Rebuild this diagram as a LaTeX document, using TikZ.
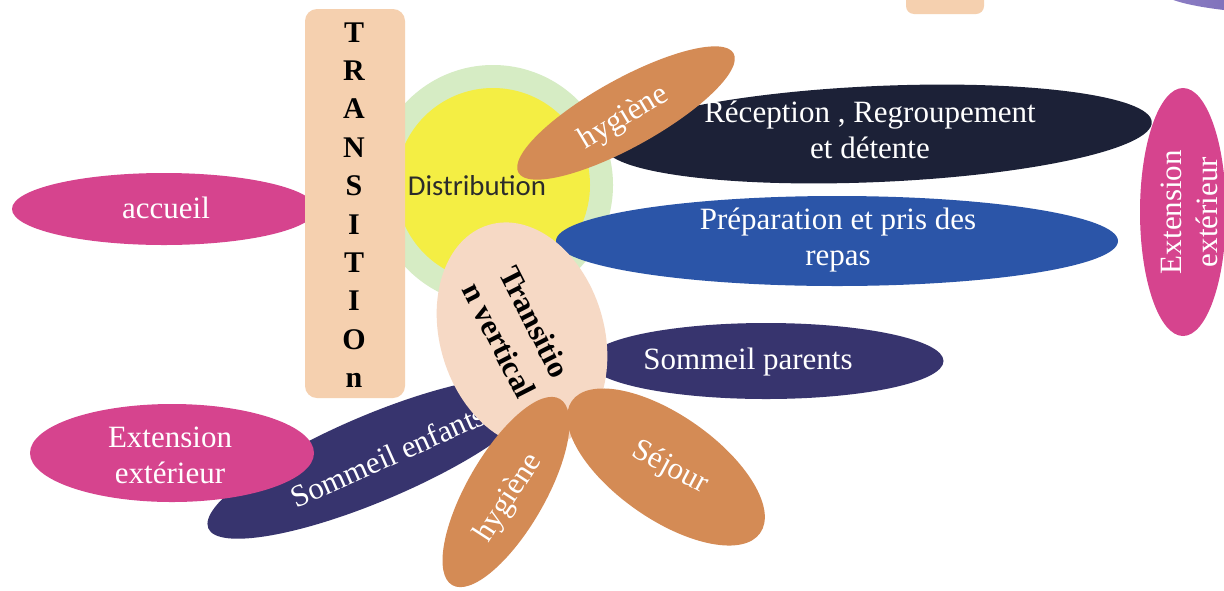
\documentclass[tikz,border=0pt]{standalone}
\usepackage{fontspec}
\setmainfont{Liberation Serif}
\newfontfamily\calib{Carlito}
\usetikzlibrary{shapes.geometric}
\definecolor{pinkc}{HTML}{D6448E}
\definecolor{navyc}{HTML}{1C2137}
\definecolor{bluec}{HTML}{2B55A8}
\definecolor{purpc}{HTML}{37346E}
\definecolor{orangec}{HTML}{D48B55}
\definecolor{peachbox}{HTML}{F5D0AF}
\definecolor{peachell}{HTML}{F6D9C5}
\definecolor{sunc}{HTML}{F4EE44}
\definecolor{glowc}{HTML}{D6ECC4}
\definecolor{distc}{HTML}{2B2B2B}
\definecolor{toppurpL}{HTML}{8E80C6}
\definecolor{toppurpR}{HTML}{4A3A90}
\pgfdeclareradialshading{sunglow}{\pgfpoint{0bp}{0bp}}{color(0bp)=(glowc); color(40bp)=(glowc); color(50bp)=(white)}
\begin{document}
\begin{tikzpicture}[x=0.5pt,y=-0.5pt,
  blob/.style={ellipse, draw=none, inner sep=0pt, outer sep=0pt},
  wtext/.style={text=white, font=\fontsize{15.5}{18}\selectfont, align=center, inner sep=0pt},
  btext/.style={text=black, font=\bfseries\fontsize{15}{19.2}\selectfont, align=center, inner sep=0pt}]
\useasboundingbox (0,0) rectangle (1224,590);
\fill[white] (0,0) rectangle (1224,590);
\clip (0,0) rectangle (1224,590);
% partial shapes at the top edge
\fill[peachbox, rounded corners=4pt] (906,-20) rectangle (984,14);
\shade[left color=toppurpL, right color=toppurpR] (1320,-10) ellipse [x radius=80pt, y radius=12.5pt];
% sun
\shade[shading=sunglow] (493,185) circle [radius=60pt];
\node[circle, fill=sunc, minimum size=97pt, inner sep=0pt] (sun) at (493,185) {};
% accueil
\node[blob, fill=pinkc, minimum width=152pt, minimum height=36pt] (accueil) at (164,209) {};
\node[wtext] (accueilT) at (166,208) {accueil};
% TRANSITIOn box
\node[rectangle, rounded corners=6pt, fill=peachbox, minimum width=50pt, minimum height=194.5pt, inner sep=0pt] (trans) at (355,203.5) {};
\node[btext] (transT) at (354,205) {T\\R\\A\\N\\S\\I\\T\\I\\O\\n};
% Distribution
\node[font=\calib\fontsize{14.4}{17}\selectfont, text=distc, inner sep=0pt] (distT) at (477,186) {Distribution};
% Reception
\node[blob, fill=navyc, minimum width=274pt, minimum height=48pt, rotate=2.5] (recep) at (878,134) {};
\node[wtext] (recepT) at (870,130) {Réception , Regroupement\\et détente};
% hygiene top
\node[blob, fill=orangec, minimum width=123pt, minimum height=34pt, rotate=29] (hyg1) at (626,113) {};
\node[wtext, rotate=31] (hyg1T) at (624,118) {hygiène};
% Preparation
\node[blob, fill=bluec, minimum width=281pt, minimum height=45pt] (prep) at (837,241) {};
\node[wtext] (prepT) at (838,240) {Préparation et pris des\\repas};
% Extension right
\node[blob, fill=pinkc, minimum width=43pt, minimum height=124pt] (extR) at (1183,212) {};
\node[wtext, rotate=90] (extRT) at (1189,212) {Extension\\extérieur};
% Sommeil parents
\node[blob, fill=purpc, minimum width=177.5pt, minimum height=38pt] (sparents) at (766,361) {};
\node[wtext] (sparentsT) at (748,362) {Sommeil parents};
% Sommeil enfants
\node[blob, fill=purpc, minimum width=180pt, minimum height=43pt, rotate=23] (senf) at (374,458) {};
\node[wtext, rotate=24] (senfT) at (388,456) {Sommeil enfants};
% Extension left
\node[blob, fill=pinkc, minimum width=142pt, minimum height=49pt] (extL) at (172,453) {};
\node[wtext] (extLT) at (170,455) {Extension\\extérieur};
% Transition vertical
\node[blob, fill=peachell, minimum width=82pt, minimum height=115pt, rotate=17] (tv) at (522,335) {};
\node[text=black, font=\bfseries\fontsize{15.5}{20}\selectfont, align=center, inner sep=0pt, rotate=-63] (tvT) at (517,331) {Transitio\\n vertical};
% hygiene bottom
\node[blob, fill=orangec, minimum width=107.5pt, minimum height=39pt, rotate=60] (hyg2) at (506,492) {};
\node[wtext, rotate=57] (hyg2T) at (509,498) {hygiène};
% Sejour
\node[blob, fill=orangec, minimum width=115pt, minimum height=52pt, rotate=-35] (sejour) at (666,467) {};
\node[wtext, rotate=-28] (sejourT) at (670,468) {Séjour};
\end{tikzpicture}
\end{document}
